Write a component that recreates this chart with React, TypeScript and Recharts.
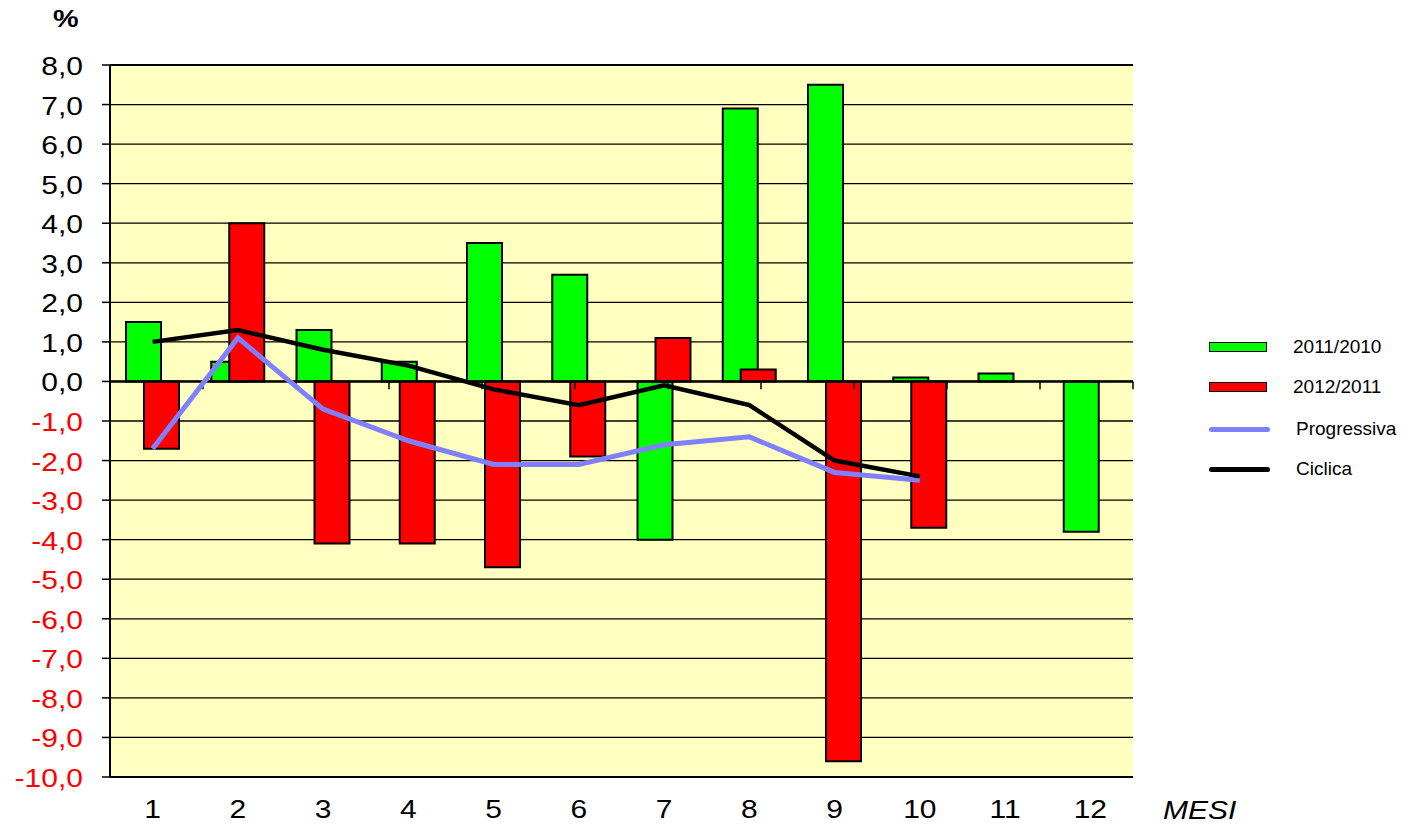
import React from "react";
import { ComposedChart, Bar, Line, XAxis, YAxis, CartesianGrid, ReferenceLine } from "recharts";

const months = ["1", "2", "3", "4", "5", "6", "7", "8", "9", "10", "11", "12"];
const var2011 = [1.5, 0.5, 1.3, 0.5, 3.5, 2.7, -4.0, 6.9, 7.5, 0.1, 0.2, -3.8];
const var2012 = [-1.7, 4.0, -4.1, -4.1, -4.7, -1.9, 1.1, 0.3, -9.6, -3.7, null, null];
const progressiva = [-1.7, 1.1, -0.7, -1.5, -2.1, -2.1, -1.6, -1.4, -2.3, -2.5, null, null];
const ciclica = [1.0, 1.3, 0.8, 0.4, -0.2, -0.6, -0.1, -0.6, -2.0, -2.4, null, null];
const yTicks = [-10, -9, -8, -7, -6, -5, -4, -3, -2, -1, 0, 1, 2, 3, 4, 5, 6, 7, 8];
const monthBounds = [1, 2, 3, 4, 5, 6, 7, 8, 9, 10, 11];

const FONT = "'Liberation Sans', Arial, sans-serif";
const GREEN = "#00FF00";
const RED = "#FF0000";
const BLUE = "#8080FF";

const data = months.map((m, i) => ({
  mese: m,
  a: var2011[i],
  b: var2012[i],
  p: progressiva[i],
  c: ciclica[i],
}));

const fmt = (v: number) => v.toFixed(1).replace(".", ",");

function YTick({ x, y, payload }: any) {
  const v = payload.value as number;
  return (
    <text
      transform={`translate(${x},${y + 10}) scale(1.2,1)`}
      textAnchor="end"
      fill={v < 0 ? RED : "#000"}
      fontSize={25}
      fontFamily={FONT}
    >
      {fmt(v)}
    </text>
  );
}

function XTick({ x, y, payload }: any) {
  return (
    <text
      transform={`translate(${x},${y + 41}) scale(1.2,1)`}
      textAnchor="middle"
      fill="#000"
      fontSize={25}
      fontFamily={FONT}
    >
      {payload.value}
    </text>
  );
}

const legendItems = [
  { name: "2011/2010", color: GREEN, kind: "bar", top: 347 },
  { name: "2012/2011", color: RED, kind: "bar", top: 387 },
  { name: "Progressiva", color: BLUE, kind: "line", top: 429 },
  { name: "Ciclica", color: "#000", kind: "line", top: 469 },
];

export default function App() {
  return (
    <div style={{ position: "absolute", left: 0, top: 0, width: 1408, height: 827, background: "#fff", fontFamily: FONT }}>
      <ComposedChart
        width={1408}
        height={827}
        data={data}
        barSize={35}
        barGap={-17}
        margin={{ top: 65, right: 275, bottom: 10, left: 10 }}
      >
        <CartesianGrid
          xAxisId="cat"
          horizontal
          vertical={false}
          stroke="#000"
          strokeWidth={1.3}
          fill="#FFFFC0"
          fillOpacity={1}
        />
        <XAxis
          xAxisId="cat"
          dataKey="mese"
          height={40}
          axisLine={false}
          tickLine={false}
          tickSize={0}
          tickMargin={0}
          interval={0}
          tick={<XTick />}
        />
        <XAxis xAxisId="num" type="number" domain={[0, 12]} hide allowDataOverflow />
        <YAxis
          width={100}
          domain={[-10, 8]}
          ticks={yTicks}
          interval={0}
          allowDataOverflow
          tickSize={8}
          tickMargin={19}
          axisLine={{ stroke: "#000", strokeWidth: 2 }}
          tickLine={{ stroke: "#000", strokeWidth: 1.5 }}
          tick={<YTick />}
        />
        <Bar xAxisId="cat" dataKey="a" name="2011/2010" fill={GREEN} stroke="#000" strokeWidth={2} isAnimationActive={false} />
        <Bar xAxisId="cat" dataKey="b" name="2012/2011" fill={RED} stroke="#000" strokeWidth={2} isAnimationActive={false} />
        <ReferenceLine xAxisId="cat" y={0} stroke="#000" strokeWidth={2.5} />
        <ReferenceLine xAxisId="cat" y={8} stroke="#000" strokeWidth={2} />
        <ReferenceLine xAxisId="cat" y={-10} stroke="#000" strokeWidth={2} />
        <ReferenceLine xAxisId="num" x={12} stroke="#000" strokeWidth={2} />
        {monthBounds.map((b) => (
          <ReferenceLine
            key={b}
            xAxisId="num"
            segment={[{ x: b, y: 0 }, { x: b, y: -0.2 }]}
            stroke="#000"
            strokeWidth={1.5}
          />
        ))}
        <Line
          xAxisId="cat"
          type="linear"
          dataKey="p"
          name="Progressiva"
          stroke={BLUE}
          strokeWidth={5}
          dot={false}
          activeDot={false}
          isAnimationActive={false}
        />
        <Line
          xAxisId="cat"
          type="linear"
          dataKey="c"
          name="Ciclica"
          stroke="#000"
          strokeWidth={4.5}
          dot={false}
          activeDot={false}
          isAnimationActive={false}
        />
      </ComposedChart>

      <div style={{ position: "absolute", left: 53, top: 4, fontSize: 24, fontWeight: "bold", transform: "scaleX(1.2)", transformOrigin: "left top", lineHeight: "30px" }}>
        %
      </div>
      <div style={{ position: "absolute", left: 1163, top: 795, fontSize: 25, fontStyle: "italic", transform: "scaleX(1.2)", transformOrigin: "left top", lineHeight: "30px" }}>
        MESI
      </div>

      {legendItems.map((it) => (
        <div key={it.name} style={{ position: "absolute", left: 1209, top: it.top - 15, height: 30, display: "flex", alignItems: "center" }}>
          {it.kind === "bar" ? (
            <div style={{ width: 56, height: 8, background: it.color, border: "1.5px solid #000" }} />
          ) : (
            <div style={{ width: 61, height: 5, background: it.color, borderRadius: 3 }} />
          )}
          <span style={{ marginLeft: 26, fontSize: 19, color: "#000" }}>{it.name}</span>
        </div>
      ))}
    </div>
  );
}
